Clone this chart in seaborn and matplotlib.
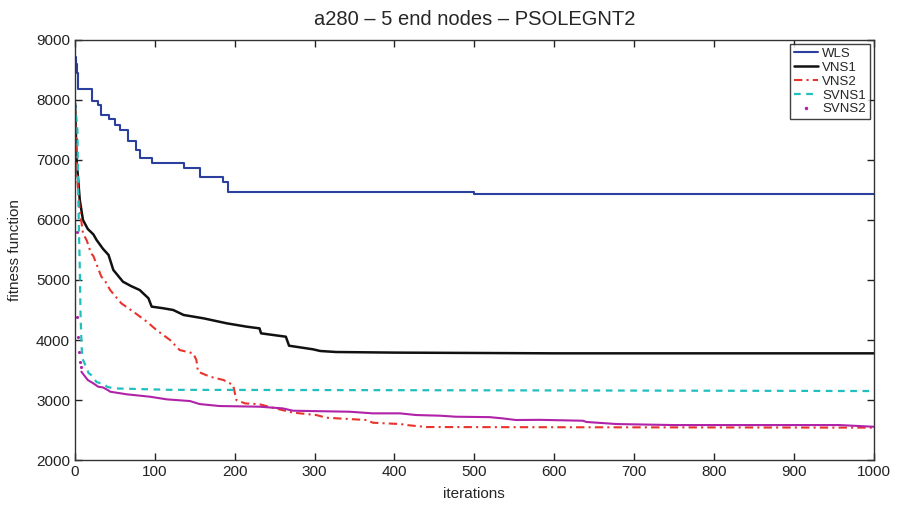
import matplotlib
matplotlib.use("Agg")
import matplotlib.pyplot as plt
from matplotlib.lines import Line2D
import seaborn as sns

# breakpoints (iteration, fitness)
wls_iter = [0, 1, 2, 4, 21, 29, 33, 42, 50, 56, 66, 77, 82, 96, 136, 156, 185, 192, 500, 1000]
wls_val = [8720, 8600, 8450, 8180, 7980, 7920, 7750, 7680, 7580, 7500, 7310, 7170, 7040,
           6955, 6870, 6720, 6640, 6460, 6430, 6430]

vns1_iter = [0, 1, 2, 4, 6, 10, 12, 16, 23, 27, 35, 42, 48, 60, 70, 81, 92, 96, 110, 123,
             136, 161, 190, 215, 231, 233, 264, 268, 298, 307, 327, 400, 600, 1000]
vns1_val = [7950, 7500, 7000, 6667, 6333, 6000, 5950, 5850, 5760, 5667, 5520, 5417, 5167,
            4972, 4900, 4833, 4695, 4556, 4530, 4500, 4417, 4361, 4278, 4222, 4194, 4111,
            4055, 3905, 3845, 3817, 3800, 3790, 3778, 3778]

vns2_iter = [0, 2, 3, 6, 10, 15, 20, 23, 33, 37, 44, 58, 73, 90, 102, 119, 131, 148, 152,
             154, 169, 186, 198, 202, 213, 231, 248, 273, 302, 315, 365, 373, 407, 419, 440,
             700, 1000]
vns2_val = [7900, 7000, 6667, 6167, 5778, 5650, 5444, 5400, 5055, 5000, 4833, 4611, 4472,
            4305, 4167, 4000, 3833, 3778, 3667, 3472, 3389, 3333, 3250, 3000, 2944, 2930,
            2870, 2790, 2750, 2705, 2667, 2622, 2600, 2578, 2550, 2545, 2540]

svns1_iter = [0, 3, 4, 5, 6, 7, 8, 9, 12, 17, 20, 27, 37, 40, 48, 119, 600, 1000]
svns1_val = [7950, 7500, 6500, 5800, 5200, 4400, 4000, 3700, 3611, 3450, 3420, 3300, 3260,
             3222, 3194, 3170, 3160, 3150]

# first iterations of SVNS2 show up as separate dots
svns2_dot_iter = [0, 1, 2, 3, 4, 5, 6, 7]
svns2_dot_val = [7900, 7350, 5800, 4390, 4055, 3805, 3640, 3550]
svns2_iter = [8, 16, 23, 29, 35, 41, 44, 65, 94, 115, 144, 156, 181, 231, 260, 273, 344, 373,
              407, 427, 457, 477, 519, 535, 552, 582, 636, 640, 678, 749, 957, 1000]
svns2_val = [3472, 3333, 3278, 3222, 3210, 3167, 3139, 3095, 3055, 3011, 2983, 2933, 2900,
             2889, 2861, 2822, 2805, 2778, 2778, 2750, 2739, 2722, 2715, 2695, 2667, 2670,
             2655, 2635, 2600, 2583, 2583, 2555]

x_ticks = list(range(0, 1001, 100))
y_ticks = list(range(2000, 9001, 1000))

c_wls = "#2b3f9e"
c_vns1 = "#111111"
c_vns2 = "#e8342c"
c_svns1 = "#22bfbf"
c_svns2 = "#b022a8"

sns.set_style("white")
plt.rcParams['font.family'] = ['Liberation Sans', 'DejaVu Sans']

fig = plt.figure(figsize=(8.98, 5.05), dpi=100)
ax = fig.add_axes([0.0835, 0.089, 0.8895, 0.832])

sns.lineplot(x=wls_iter, y=wls_val, ax=ax, color=c_wls, lw=1.5, drawstyle="steps-post")
sns.lineplot(x=vns1_iter, y=vns1_val, ax=ax, color=c_vns1, lw=1.8)
sns.lineplot(x=vns2_iter, y=vns2_val, ax=ax, color=c_vns2, lw=1.5, linestyle=(0, (4, 2, 1, 2)))
sns.lineplot(x=svns1_iter, y=svns1_val, ax=ax, color=c_svns1, lw=1.6, linestyle=(0, (3, 2.5)))
sns.scatterplot(x=svns2_dot_iter, y=svns2_dot_val, ax=ax, color=c_svns2, s=5, linewidth=0)
sns.lineplot(x=svns2_iter, y=svns2_val, ax=ax, color=c_svns2, lw=1.5)

ax.set_xlim(0, 1000)
ax.set_ylim(2000, 9000)
ax.set_xticks(x_ticks)
ax.set_yticks(y_ticks)
ax.tick_params(direction="in", length=5, width=1, labelsize=11, colors="#222222",
               top=True, right=True, bottom=True, left=True)
for s in ax.spines.values():
    s.set_visible(True)
    s.set_color("#333333")
    s.set_linewidth(1)

ax.set_title("a280 \u2013 5 end nodes \u2013 PSOLEGNT2", fontsize=14.5, pad=10.5)
ax.set_xlabel("iterations", fontsize=11, labelpad=6)
ax.set_ylabel("fitness function", fontsize=11, labelpad=10)

handles = [
    Line2D([], [], color=c_wls, lw=1.5),
    Line2D([], [], color=c_vns1, lw=1.8),
    Line2D([], [], color=c_vns2, lw=1.5, linestyle=(0, (4, 2, 1, 2))),
    Line2D([], [], color=c_svns1, lw=1.6, linestyle=(0, (3, 2.5))),
    Line2D([], [], color=c_svns2, lw=0, marker=".", markersize=3),
]
leg = ax.legend(handles, ["WLS", "VNS1", "VNS2", "SVNS1", "SVNS2"], loc="upper right",
                fontsize=9.5, frameon=True, fancybox=False, borderaxespad=0.3,
                handlelength=1.8, handletextpad=0.3, labelspacing=0.12, borderpad=0.3)
leg.get_frame().set_edgecolor("#111111")
leg.get_frame().set_linewidth(1)

fig.savefig("out.png", dpi=100)
